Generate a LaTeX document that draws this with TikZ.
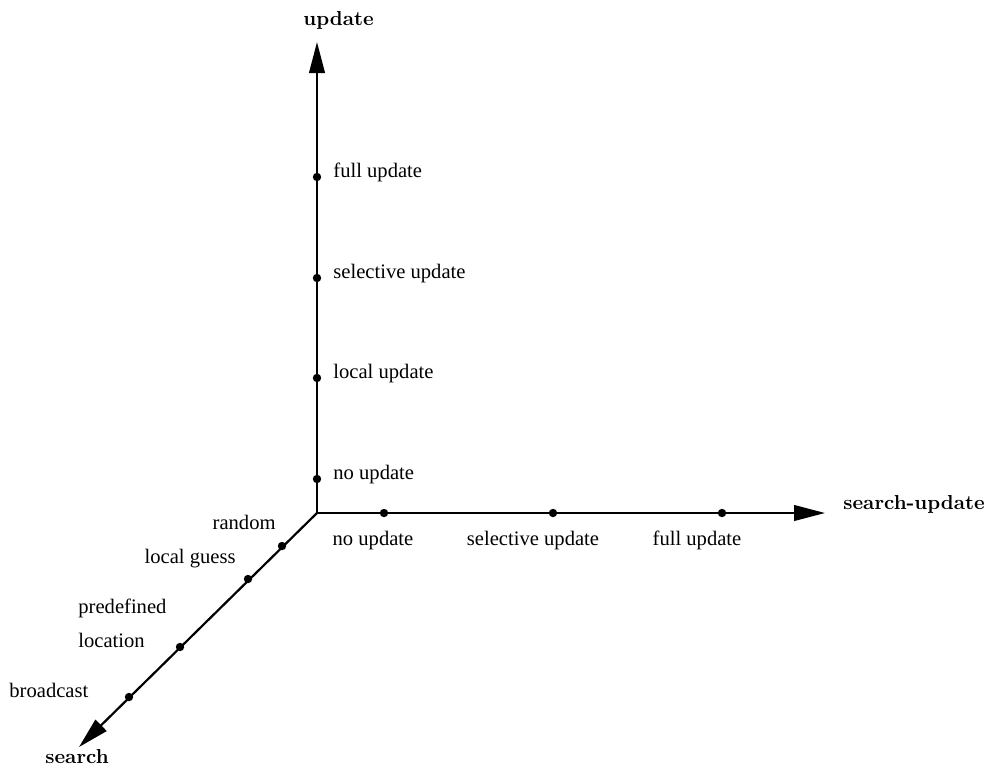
\documentclass[tikz,border=0pt]{standalone}
\usepackage{fontspec}
\newfontfamily\tickfont{Liberation Serif}
\usetikzlibrary{arrows.meta}
\begin{document}
\begin{tikzpicture}[x=0.5pt,y=-0.5pt,
  axis/.style={line width=1.1pt,-{Triangle[length=15.5pt,width=7.8pt]}},
  tick/.style={circle,fill=black,inner sep=0pt,minimum size=4.2pt},
  ticklabel/.style={inner sep=0pt,font=\tickfont\fontsize{10.3}{12}\selectfont},
  axislabel/.style={inner sep=0pt,anchor=base west,font=\fontsize{10.1}{12}\selectfont\bfseries}]
  \useasboundingbox (0,0) rectangle (989,768);
  % origin and axis ends
  \coordinate (O) at (317,513);
  \coordinate (Utip) at (317,42);
  \coordinate (Stip) at (825,513);
  \coordinate (Dtip) at (79,747);
  \draw[axis] (O) -- (Utip);
  \draw[axis] (O) -- (Stip);
  \draw[axis] (O) -- (Dtip);
  % axis titles
  \node[axislabel] (lupd) at (303,25) {update};
  \node[axislabel] (lsu) at (843,509) {search-update};
  \node[axislabel] (lsrch) at (45,763) {search};
  % update axis
  \node[tick] (u1) at (317,479) {};
  \node[tick] (u2) at (317,378) {};
  \node[tick] (u3) at (317,278) {};
  \node[tick] (u4) at (317,177) {};
  \node[ticklabel,anchor=base west] (lu1) at (333,479) {no update};
  \node[ticklabel,anchor=base west] (lu2) at (333,378) {local update};
  \node[ticklabel,anchor=base west] (lu3) at (333,278) {selective update};
  \node[ticklabel,anchor=base west] (lu4) at (333,177) {full update};
  % search-update axis
  \node[tick] (s1) at (384,513) {};
  \node[tick] (s2) at (553,513) {};
  \node[tick] (s3) at (722,513) {};
  \node[ticklabel,anchor=base] (ls1) at (373,545) {no update};
  \node[ticklabel,anchor=base] (ls2) at (533,545) {selective update};
  \node[ticklabel,anchor=base] (ls3) at (697,545) {full update};
  % search axis
  \node[tick] (d1) at (282,546) {};
  \node[tick] (d2) at (248,579) {};
  \node[tick] (d3) at (180,647) {};
  \node[tick] (d4) at (129,697) {};
  \node[ticklabel,anchor=base east] (ld1) at (276,529) {random};
  \node[ticklabel,anchor=base east] (ld2) at (236,563) {local guess};
  \node[ticklabel,anchor=base west] (ld3a) at (78,613) {predefined};
  \node[ticklabel,anchor=base west] (ld3b) at (78,647) {location};
  \node[ticklabel,anchor=base west] (ld4) at (9,697) {broadcast};
\end{tikzpicture}
\end{document}
